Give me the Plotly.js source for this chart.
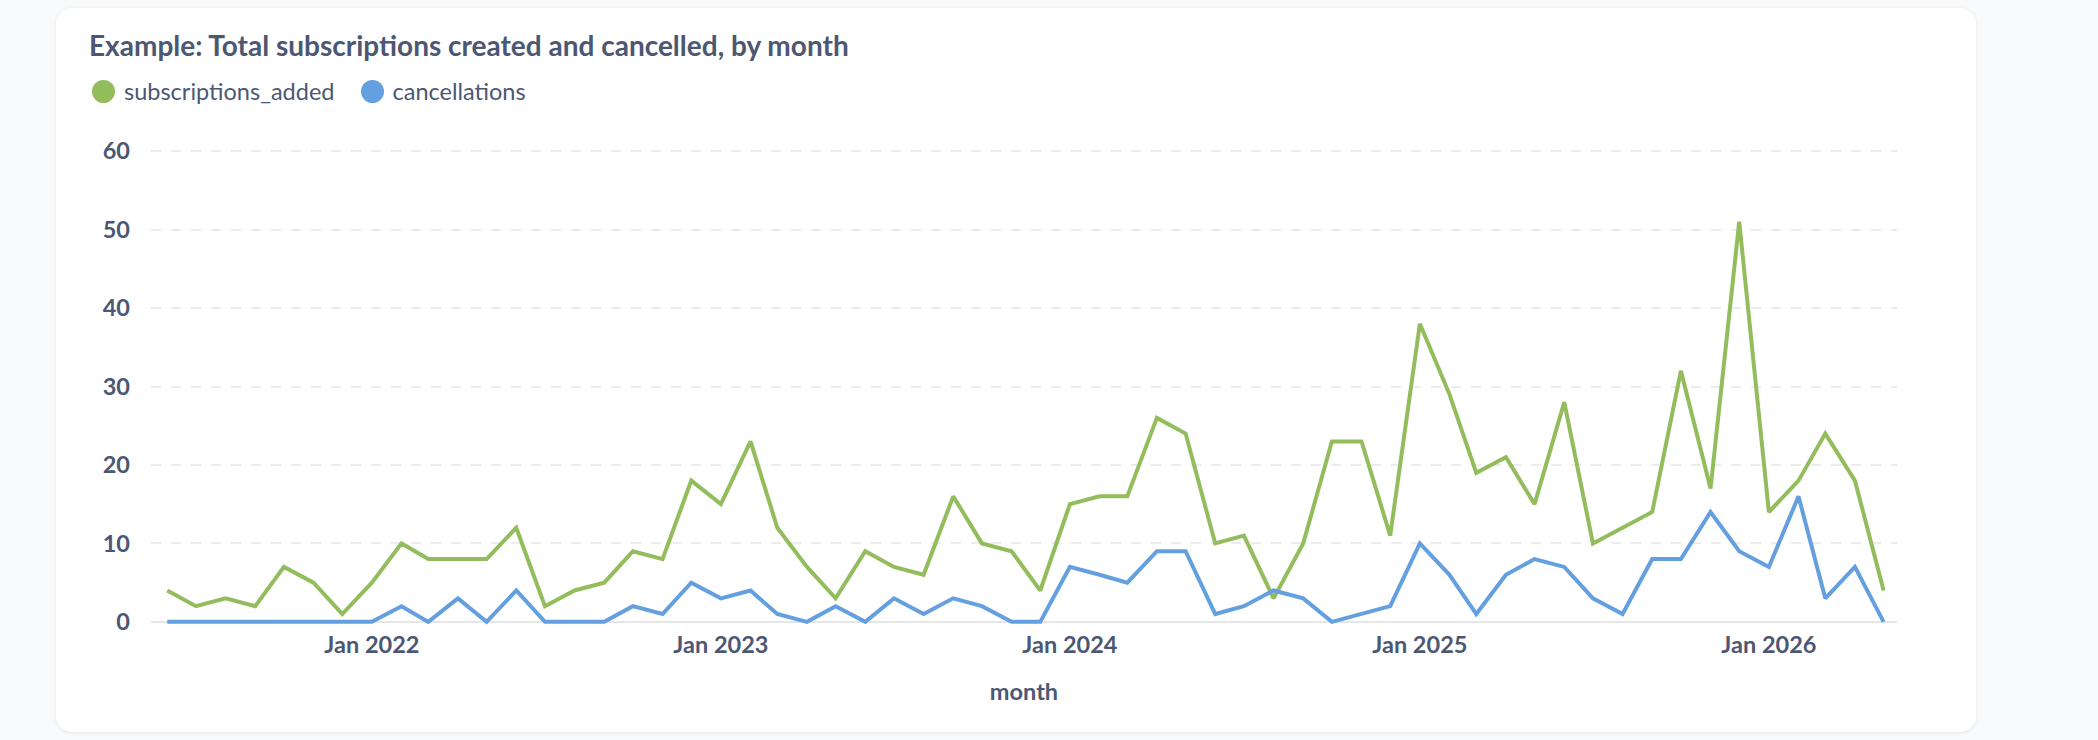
<!DOCTYPE html>
<html>
<head>
<meta charset="utf-8">
<script src="https://cdn.plot.ly/plotly-3.0.1.min.js"></script>
<style>
  html, body { margin: 0; padding: 0; background: #f9fafb; }
  body { width: 2098px; height: 740px; position: relative; overflow: hidden; font-family: Lato, "Open Sans", sans-serif; }
  #card {
    position: absolute; left: 56px; top: 8px; width: 1920px; height: 724px;
    background: #fff; border-radius: 16px;
    box-shadow: 0 1px 4px rgba(0, 0, 0, 0.09);
  }
  #title {
    position: absolute; left: 89px; top: 31px;
    font-size: 28px; line-height: 28px; font-weight: 700; color: #4c5773;
    white-space: nowrap;
  }
  #legend { position: absolute; left: 92px; top: 78px; height: 26px; display: flex; align-items: center; color: #4c5773; font-size: 23.5px; }
  .item { display: flex; align-items: center; margin-right: 26px; }
  .dot { width: 23px; height: 23px; border-radius: 50%; margin-right: 9px; }
  #chart { position: absolute; left: 0; top: 0; width: 2098px; height: 740px; }
</style>
</head>
<body>
<div id="card"></div>
<div id="title"></div>
<div id="legend"></div>
<div id="chart"></div>
<script>
const chartTitle = "Example: Total subscriptions created and cancelled, by month";
const xTitle = "month";
const seriesNames = ["subscriptions_added", "cancellations"];
const seriesColors = ["#93bd5d", "#649fe0"];

const months = [
  "2021-06-01", "2021-07-01", "2021-08-01", "2021-09-01", "2021-10-01", "2021-11-01", "2021-12-01",
  "2022-01-01", "2022-02-01", "2022-03-01", "2022-04-01", "2022-05-01", "2022-06-01",
  "2022-07-01", "2022-08-01", "2022-09-01", "2022-10-01", "2022-11-01", "2022-12-01",
  "2023-01-01", "2023-02-01", "2023-03-01", "2023-04-01", "2023-05-01", "2023-06-01",
  "2023-07-01", "2023-08-01", "2023-09-01", "2023-10-01", "2023-11-01", "2023-12-01",
  "2024-01-01", "2024-02-01", "2024-03-01", "2024-04-01", "2024-05-01", "2024-06-01",
  "2024-07-01", "2024-08-01", "2024-09-01", "2024-10-01", "2024-11-01", "2024-12-01",
  "2025-01-01", "2025-02-01", "2025-03-01", "2025-04-01", "2025-05-01", "2025-06-01",
  "2025-07-01", "2025-08-01", "2025-09-01", "2025-10-01", "2025-11-01", "2025-12-01",
  "2026-01-01", "2026-02-01", "2026-03-01", "2026-04-01", "2026-05-01"
];

const subscriptionsAdded = [
  4, 2, 3, 2, 7, 5, 1,
  5, 10, 8, 8, 8, 12, 2, 4, 5, 9, 8, 18,
  15, 23, 12, 7, 3, 9, 7, 6, 16, 10, 9, 4,
  15, 16, 16, 26, 24, 10, 11, 3, 10, 23, 23, 11,
  38, 29, 19, 21, 15, 28, 10, 12, 14, 32, 17, 51,
  14, 18, 24, 18, 4
];

const cancellations = [
  0, 0, 0, 0, 0, 0, 0,
  0, 2, 0, 3, 0, 4, 0, 0, 0, 2, 1, 5,
  3, 4, 1, 0, 2, 0, 3, 1, 3, 2, 0, 0,
  7, 6, 5, 9, 9, 1, 2, 4, 3, 0, 1, 2,
  10, 6, 1, 6, 8, 7, 3, 1, 8, 8, 14, 9,
  7, 16, 3, 7, 0
];

const yTicks = [0, 10, 20, 30, 40, 50, 60];

document.getElementById("title").textContent = chartTitle;
const legendEl = document.getElementById("legend");
seriesNames.forEach(function (name, i) {
  const item = document.createElement("div");
  item.className = "item";
  item.innerHTML = '<span class="dot" style="background:' + seriesColors[i] + '"></span><span>' + name + '</span>';
  legendEl.appendChild(item);
});

const DAY = 24 * 3600 * 1000;
function shiftDate(s, days) {
  return new Date(Date.parse(s) + days * DAY).toISOString().slice(0, 10);
}

const data = [
  { x: months, y: subscriptionsAdded, name: seriesNames[0], type: "scatter", mode: "lines",
    line: { color: seriesColors[0], width: 4 } },
  { x: months, y: cancellations, name: seriesNames[1], type: "scatter", mode: "lines",
    line: { color: seriesColors[1], width: 4 } }
];

const tickFont = { family: "Lato, sans-serif", size: 23.5, color: "#4c5773", weight: 700 };

const layout = {
  width: 2098,
  height: 740,
  paper_bgcolor: "rgba(0,0,0,0)",
  plot_bgcolor: "rgba(0,0,0,0)",
  showlegend: false,
  margin: { l: 151, r: 201, t: 148, b: 115 },
  font: { family: "Lato, sans-serif", color: "#4c5773" },
  xaxis: {
    type: "date",
    range: [shiftDate(months[0], -17), shiftDate(months[months.length - 1], 14)],
    tick0: "2022-01-01",
    dtick: "M12",
    tickformat: "%b %Y",
    showgrid: false,
    zeroline: false,
    showline: false,
    ticks: "",
    ticklabelstandoff: 3,
    tickfont: tickFont,
    title: { text: xTitle, font: tickFont, standoff: 27 }
  },
  yaxis: {
    range: [-0.4, 60.4],
    tickvals: yTicks,
    showgrid: true,
    gridcolor: "#ececec",
    gridwidth: 2,
    griddash: "10px,10px",
    zeroline: true,
    zerolinecolor: "#e6e6e6",
    zerolinewidth: 2,
    showline: false,
    ticks: "",
    ticklabelstandoff: 20,
    tickfont: tickFont
  }
};

Plotly.newPlot("chart", data, layout, { staticPlot: true, displayModeBar: false });
</script>
</body>
</html>
